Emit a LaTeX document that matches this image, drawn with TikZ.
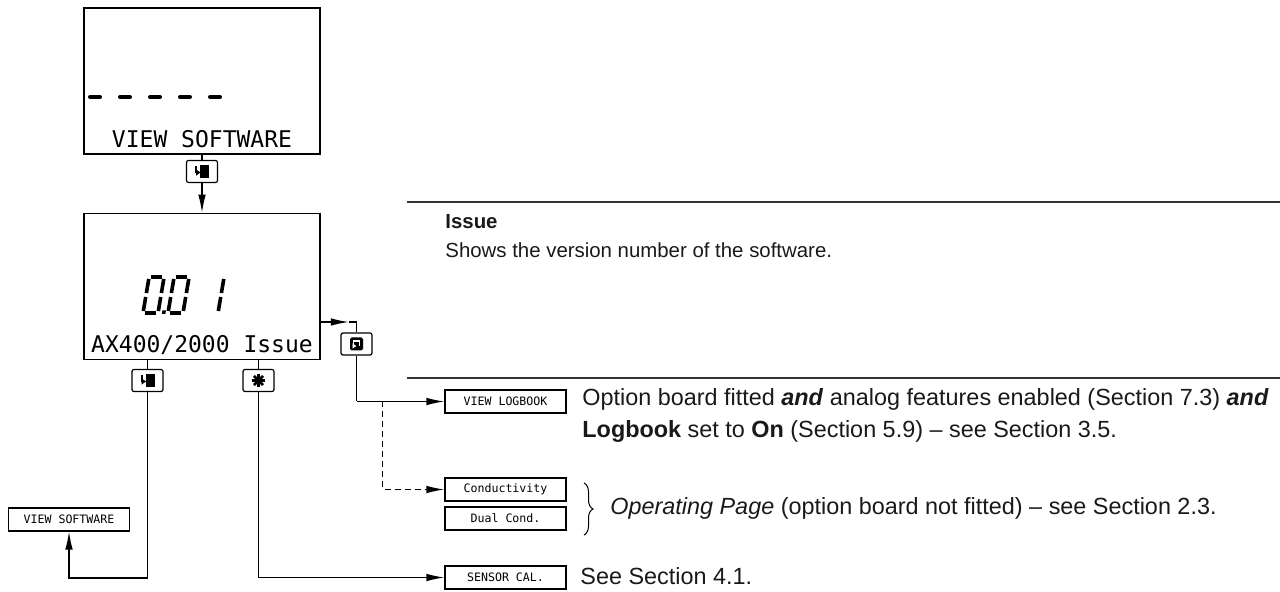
\documentclass[tikz,border=0pt]{standalone}
\usepackage{fontspec}
\setmainfont{Liberation Sans}
\newfontfamily\lcdfont{DejaVu Sans Mono}
\usetikzlibrary{positioning, arrows.meta, calc, decorations.pathreplacing}

\begin{document}
\begin{tikzpicture}[x=0.5pt, y=-0.5pt,
	lcd/.style={draw, line width=0.8pt, minimum width=118pt, minimum height=73pt, inner sep=0pt},
	lcdtext/.style={font=\lcdfont\fontsize{11.5}{12}\selectfont, inner sep=0pt, anchor=base},
	keybox/.style={draw, fill=white, rounded corners=1pt, line width=0.6pt, minimum width=15.5pt, minimum height=11pt, inner sep=0pt},
	menubox/.style={draw, line width=0.6pt, minimum width=60.5pt, minimum height=11.5pt, inner sep=0pt, font=\lcdfont\fontsize{5.8}{6}\selectfont},
	body/.style={font=\fontsize{11.7}{14.5}\selectfont, inner sep=0pt, anchor=base west, text=black!90},
	small/.style={body, font=\fontsize{10.2}{12}\selectfont},
	link/.style={line width=0.65pt},
	arr/.style={link, -{Latex[length=9pt, width=3.8pt]}},
	seg/.style={line width=1.8pt}]
			
			\useasboundingbox (0,0) rectangle (1280,592);
			
			% Displays
			\node[lcd] (disp1) at (202,81) {};
			\node[lcd] (disp2) at (202,286.5) {};
			
			\foreach \dx in {88,118,148,178,208}
				\draw[line width=2pt, line cap=round] (\dx+2,97) -- ++(10,0);
			
			\node[lcdtext] (title1) at (202,148) {VIEW SOFTWARE};
			\node[lcdtext] (title2) at (202,353) {AX400/2000 Issue};
			
			% Issue number in segments
			\begin{scope}[shift={(143,313)}, xslant=0.17]
				\foreach \ox in {0,25} {
					\draw[seg] (\ox+2,-36) -- (\ox+13,-36);
					\draw[seg] (\ox+2,0) -- (\ox+13,0);
					\draw[seg] (\ox,-34) -- (\ox,-20) (\ox,-16) -- (\ox,-2);
					\draw[seg] (\ox+15,-34) -- (\ox+15,-20) (\ox+15,-16) -- (\ox+15,-2);
				}
				\fill (19,1) rectangle (22.5,-2.5);
				\draw[seg] (75,-34) -- (75,-20) (75,-16) -- (75,-2);
			\end{scope}
			
			% Keys
			\node[keybox] (kenter1) at (202,171.5) {};
			\node[keybox] (kloop) at (356.5,344) {};
			\node[keybox] (kenter2) at (147.5,380.5) {};
			\node[keybox] (kstar) at (258.5,380.5) {};
			
			\foreach \k in {kenter1,kenter2} {
				\fill ($(\k)+(-2,-6.5)$) rectangle ($(\k)+(7,6.5)$);
				\draw[line width=1pt, -{Latex[length=2.5pt, width=3.5pt]}] ($(\k)+(-6,-5)$) -- ($(\k)+(-6,1)$) -- ($(\k)+(-1,1)$);
			}
			\fill[rounded corners=0.8pt] ($(kloop)+(-6.5,-6.5)$) rectangle ($(kloop)+(6.5,6.5)$);
			\draw[white, line width=0.9pt, -{Latex[length=2pt, width=3pt]}] ($(kloop)+(3,2)$) -- ($(kloop)+(3,-3)$) -- ($(kloop)+(-3,-3)$) -- ($(kloop)+(-3,2)$) -- ($(kloop)+(0,2)$);
			\foreach \ang in {0,45,90,135}
				\draw[line width=1.4pt] ($(kstar)+(\ang:6.5)$) -- ($(kstar)+(\ang+180:6.5)$);
			
			% Menu boxes
			\node[menubox] (vsw) at (69,519.5) {VIEW SOFTWARE};
			\node[menubox] (vlog) at (505.5,401.5) {VIEW LOGBOOK};
			\node[menubox] (cond) at (505.5,489.5) {Conductivity};
			\node[menubox] (dual) at (505.5,518.5) {Dual Cond.};
			\node[menubox] (scal) at (505.5,577.5) {SENSOR CAL.};
			
			% Texts
			\draw[line width=0.6pt, black!80] (407,202) -- (1280,202);
			\draw[line width=0.6pt, black!80] (407,378) -- (1280,378);
			
			\node[small] (issuehead) at (445,229) {\textbf{Issue}};
			\node[small] (issuetext) at (445,258) {Shows the version number of the software.};
			\node[body] (logtext1) at (582,406) {Option board fitted \textbf{\textit{and}} analog features enabled (Section 7.3) \textbf{\textit{and}}};
			\node[body] (logtext2) at (582,438) {\textbf{Logbook} set to \textbf{On} (Section 5.9) -- see Section 3.5.};
			\node[body] (optext) at (610,515) {\textit{Operating Page} (option board not fitted) -- see Section 2.3.};
			\node[body] (caltext) at (580,585) {See Section 4.1.};
			
			\draw[decorate, decoration={brace, amplitude=4.5pt}, line width=0.5pt] (584,483) -- (584,535);
			
			% Connections
			\draw[link] (disp1.south) -- (kenter1.north);
			\draw[arr] (kenter1.south) -- (disp2.north);
			
			\draw[arr] ($(disp2.east)+(0,35.5)$) -- ++(28,0) coordinate (tipR);
			\draw[link] (tipR) -| (kloop.north);
			
			\coordinate (split) at (kloop |- vlog);
			\coordinate (dsplit) at ($(split)+(26,0)$);
			\draw[link] (kloop.south) -- (split);
			\draw[arr] (split) -- (vlog.west);
			\draw[arr, dash pattern=on 3pt off 2pt] (dsplit) |- (cond.west);
			
			\coordinate (base) at (0,578);
			\draw[link] (disp2.south -| kenter2) -- (kenter2.north);
			\draw[arr] (kenter2.south) -- (kenter2 |- base) -| (vsw.south);
			
			\draw[link] (disp2.south -| kstar) -- (kstar.north);
			\draw[arr] (kstar.south) |- (scal.west);
			
\end{tikzpicture}
\end{document}
